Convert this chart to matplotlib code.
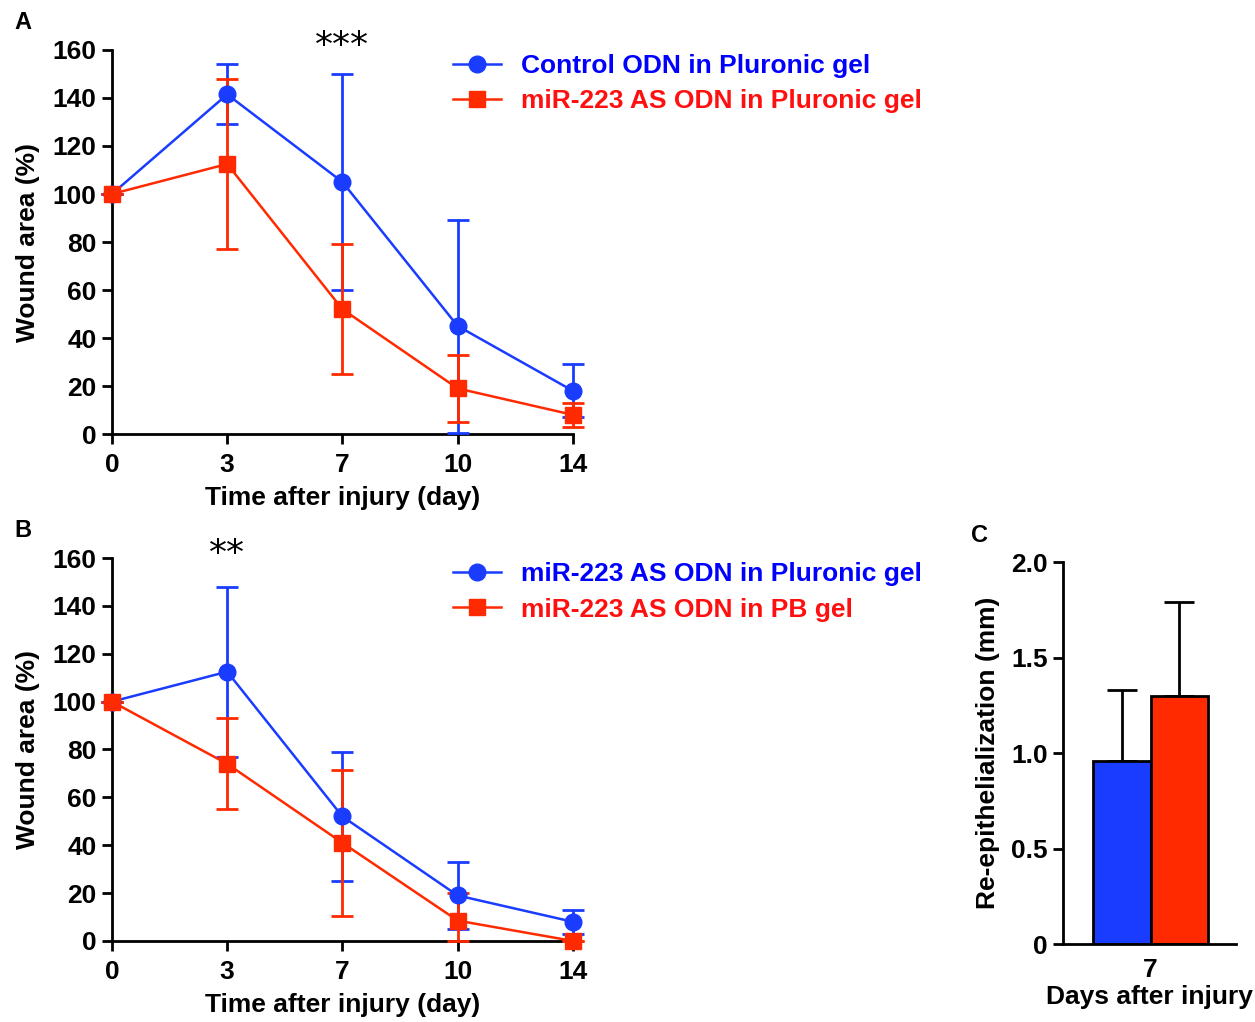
import matplotlib
matplotlib.use("Agg")
import matplotlib.pyplot as plt
from matplotlib.lines import Line2D
import numpy as np

plt.rcParams["font.family"] = ["Liberation Sans", "DejaVu Sans"]
plt.rcParams["font.weight"] = "bold"

# shared x categories (days)
days = ["0", "3", "7", "10", "14"]

# panel A
a_ctrl = [100, 141.5, 105, 45, 18]
a_ctrl_lo = [0, 12.5, 45, 44.5, 11]
a_ctrl_hi = [0, 12.5, 45, 44, 11]
a_as = [100, 112.5, 52, 19, 8]
a_as_lo = [0, 35.5, 27, 14, 5]
a_as_hi = [0, 35.5, 27, 14, 5]

# panel B
b_plu = [100, 112.5, 52, 19, 8]
b_plu_lo = [0, 35.5, 27, 14, 5]
b_plu_hi = [0, 35.5, 27, 14, 5]
b_pb = [100, 74, 41, 8.5, 0]
b_pb_lo = [0, 19, 30.5, 8.5, 0]
b_pb_hi = [0, 19, 30.5, 11.5, 0]

# panel C
c_vals = [0.96, 1.30]
c_err = [0.37, 0.49]

BLUE = "#1a3cff"
RED = "#ff2a00"
BLUE_TXT = "#0000ff"
RED_TXT = "#ff1010"
FS = 19

fig = plt.figure(figsize=(12.55, 10.22), dpi=100)


def style_axes(ax):
    for s in ["top", "right"]:
        ax.spines[s].set_visible(False)
    for s in ["left", "bottom"]:
        ax.spines[s].set_linewidth(2)
    ax.tick_params(width=2, length=7, labelsize=FS, pad=4)


def line_panel(rect, s1, lo1, hi1, s2, lo2, hi2, labels, stars, star_x, letter):
    ax = fig.add_axes(rect)
    x = np.arange(len(days))
    for s, lo, hi, col, mk in [(s1, lo1, hi1, BLUE, "o"), (s2, lo2, hi2, RED, "s")]:
        h = ax.errorbar(x, s, yerr=[lo, hi], color=col, marker=mk, ms=12, lw=1.8,
                        elinewidth=2, capsize=8, capthick=2, zorder=3)
        h.lines[0].set_clip_on(False)
        for art in h.lines[1] + tuple(h.lines[2]):
            art.set_clip_on(False)
    style_axes(ax)
    ax.tick_params(axis="x", pad=7)
    ax.set_xlim(0, 4)
    ax.set_ylim(0, 160)
    ax.set_xticks(x)
    ax.set_xticklabels(days)
    ax.set_yticks(range(0, 161, 20))
    ax.set_xlabel("Time after injury (day)", fontsize=FS, fontweight="bold", labelpad=6)
    ax.set_ylabel("Wound area (%)", fontsize=FS, fontweight="bold", labelpad=9)
    ax.text(star_x, 161.5, stars, ha="center", va="center", fontsize=26,
            fontweight="normal", family="DejaVu Sans")
    handles = [Line2D([], [], color=BLUE, marker="o", ms=12, lw=1.8),
               Line2D([], [], color=RED, marker="s", ms=12, lw=1.8)]
    leg = ax.legend(handles, labels, loc="upper left", bbox_to_anchor=(0.718, 1.016),
                    frameon=False, fontsize=FS, handlelength=1.8, handletextpad=0.75,
                    labelspacing=0.42, borderaxespad=0)
    for t, c in zip(leg.get_texts(), [BLUE_TXT, RED_TXT]):
        t.set_color(c)
        t.set_fontweight("bold")
    fig.text(rect[0] - 0.078, rect[1] + rect[3] + 0.016, letter, fontsize=17,
             fontweight="bold", va="bottom")
    return ax


line_panel([0.0892, 0.5753, 0.3673, 0.3758], a_ctrl, a_ctrl_lo, a_ctrl_hi,
           a_as, a_as_lo, a_as_hi,
           ["Control ODN in Pluronic gel", "miR-223 AS ODN in Pluronic gel"],
           "***", 2, "A")
line_panel([0.0892, 0.0793, 0.3673, 0.3747], b_plu, b_plu_lo, b_plu_hi,
           b_pb, b_pb_lo, b_pb_hi,
           ["miR-223 AS ODN in Pluronic gel", "miR-223 AS ODN in PB gel"],
           "**", 1, "B")

# panel C
axc = fig.add_axes([0.847, 0.0763, 0.138, 0.3737])
bx = [-0.5, 0.5]
axc.bar(bx, c_vals, width=1.0, color=[BLUE, RED], edgecolor="black", linewidth=2, zorder=2)
axc.errorbar(bx, c_vals, yerr=[[0, 0], c_err], fmt="none", ecolor="black",
             elinewidth=2, capsize=11, capthick=2, zorder=1)
style_axes(axc)
axc.set_xlim(-1.526, 1.49)
axc.set_ylim(0, 2.0)
axc.set_yticks([0, 0.5, 1.0, 1.5, 2.0])
axc.set_yticklabels(["0", "0.5", "1.0", "1.5", "2.0"])
axc.set_xticks([0])
axc.set_xticklabels(["7"])
axc.tick_params(axis="x", length=0, pad=10)
axc.set_xlabel("Days after injury", fontsize=FS, fontweight="bold", labelpad=2)
axc.set_ylabel("Re-epithelialization (mm)", fontsize=FS, fontweight="bold", labelpad=8)
fig.text(0.774, 0.465, "C", fontsize=17, fontweight="bold", va="bottom")

fig.savefig("out.png", dpi=100)
